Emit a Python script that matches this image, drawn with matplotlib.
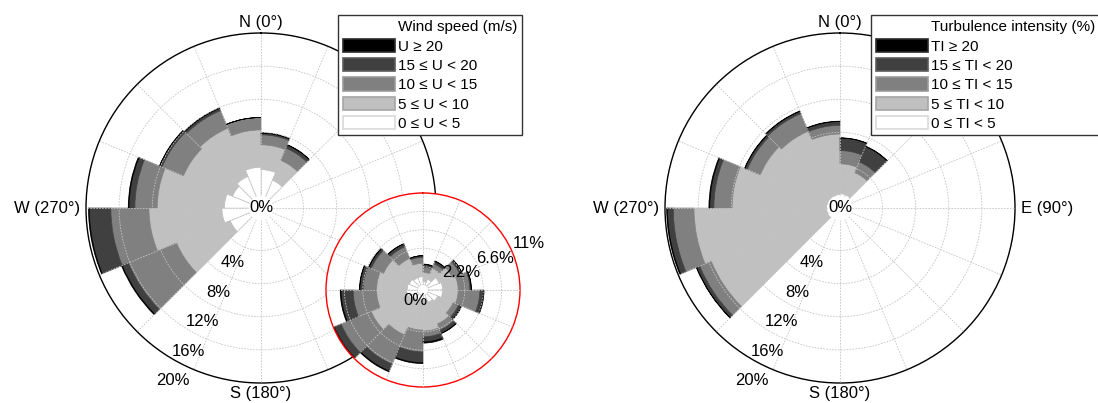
import numpy as np
import matplotlib.pyplot as plt
from matplotlib.patches import Patch

plt.rcParams['font.family'] = ['Liberation Sans', 'DejaVu Sans']

# 16 direction sectors, given by their starting bearing (deg, clockwise from N)
sectors = np.arange(0, 360, 22.5)

# frequency (%) per sector and class, left rose: wind speed
ws_0_5 = [3.5, 2.5, 0, 0, 0, 0, 0, 0, 0, 0, 2.9, 3.6, 3.3, 2.6, 3.0, 3.8]
ws_5_10 = [3.0, 2.6, 0, 0, 0, 0, 0, 0, 0, 0, 7.0, 8.8, 8.1, 6.4, 6.3, 4.5]
ws_10_15 = [1.2, 1.6, 0, 0, 0, 0, 0, 0, 0, 0, 6.3, 4.6, 2.7, 2.8, 2.3, 1.5]
ws_15_20 = [0.2, 0.4, 0, 0, 0, 0, 0, 0, 0, 0, 0.8, 2.6, 0.7, 0.3, 0.3, 0.0]
ws_20 = [0.05, 0.05, 0, 0, 0, 0, 0, 0, 0, 0, 0.1, 0.1, 0.1, 0.05, 0.05, 0.0]

# inset rose: wind speed
in_0_5 = [0.4, 0.8, 1.5, 1.75, 1.75, 1.3, 1.0, 0.6, 0.6, 0.8, 1.2, 1.35, 1.3, 1.2, 1.0, 1.0]
in_5_10 = [1.1, 1.4, 1.7, 1.85, 1.85, 2.0, 2.8, 3.7, 3.6, 4.4, 4.9, 3.6, 3.65, 3.3, 2.5, 1.6]
in_10_15 = [0.65, 0.6, 1.0, 1.4, 2.6, 0.7, 0.8, 0.7, 2.6, 3.8, 3.9, 2.8, 1.6, 1.6, 1.5, 0.7]
in_15_20 = [0.3, 0.3, 0.25, 0.15, 0.4, 0.35, 0.4, 0.6, 1.3, 0.9, 0.9, 1.45, 0.4, 0.3, 0.35, 0.2]
in_20 = [0.05, 0.05, 0.05, 0.05, 0.1, 0.05, 0.05, 0.15, 0.1, 0.1, 0.1, 0.1, 0.05, 0.05, 0.05, 0.0]

# right rose: turbulence intensity
ti_0_5 = [0.6, 0.6, 0, 0, 0, 0, 0, 0, 0, 0, 0.5, 0.5, 0.5, 0.5, 0.5, 0.5]
ti_5_10 = [3.6, 2.9, 0, 0, 0, 0, 0, 0, 0, 0, 15.2, 16.0, 11.4, 8.8, 8.4, 7.3]
ti_10_15 = [1.6, 1.4, 0, 0, 0, 0, 0, 0, 0, 0, 1.5, 2.5, 2.2, 1.7, 2.3, 1.05]
ti_15_20 = [1.5, 2.0, 0, 0, 0, 0, 0, 0, 0, 0, 0.4, 0.7, 0.5, 0.3, 0.3, 0.45]
ti_20 = [0.05, 0.05, 0, 0, 0, 0, 0, 0, 0, 0, 0.05, 0.1, 0.1, 0.05, 0.05, 0.05]

ws_labels = ['0 ≤ U < 5', '5 ≤ U < 10', '10 ≤ U < 15', '15 ≤ U < 20', 'U ≥ 20']
ti_labels = ['0 ≤ TI < 5', '5 ≤ TI < 10', '10 ≤ TI < 15', '15 ≤ TI < 20', 'TI ≥ 20']

fills = ['#ffffff', '#c0c0c0', '#808080', '#404040', '#000000']
edges = ['#d4d4d4', '#c0c0c0', '#808080', '#404040', '#000000']
legend_edges = ['#d9d9d9', '#a6a6a6', '#9a9a9a', '#5c5c5c', '#2b2b2b']

W, H = 1098, 403


def draw_rose(ax, bins, rmax, rings, hole, rim='black'):
    ax.set_theta_zero_location('N')
    ax.set_theta_direction(-1)
    theta = np.deg2rad(sectors + 11.25)
    width = np.deg2rad(22.5)
    bottom = np.zeros(len(sectors))
    for vals, fc, ec in zip(bins, fills, edges):
        vals = np.asarray(vals, dtype=float)
        ax.bar(theta, vals, width=width, bottom=bottom, color=fc,
               edgecolor=ec, linewidth=0.5, align='center')
        bottom += vals
    ax.set_ylim(0, rmax)
    ax.set_rorigin(-hole)
    ax.set_rgrids(rings, labels=[])
    ax.set_thetagrids(np.arange(0, 360, 22.5), labels=[])
    ax.grid(True, color='#c4c4c4', linestyle=(0, (2, 1.5)), linewidth=0.6)
    ax.set_axisbelow(False)
    ax.spines['polar'].set_color(rim)
    ax.spines['polar'].set_linewidth(1.0)
    ax.spines['inner'].set_visible(False)
    ax.spines['inner'].set_linewidth(0)
    ax.tick_params(length=0)


def add_labels(ax, values, fmt, bearing, offset, size=12):
    for v in values:
        ax.text(np.deg2rad(bearing), v + offset, fmt.format(v), ha='center',
                va='center', fontsize=size, clip_on=False)


def rose_box(cx, cy, r):
    return [(cx - r) / W, (H - cy - r) / H, 2 * r / W, 2 * r / H]


fig = plt.figure(figsize=(W / 100, H / 100), dpi=100)

# --- left rose: wind speed ---
ax1 = fig.add_axes(rose_box(261, 208, 175), projection='polar')
draw_rose(ax1, [ws_0_5, ws_5_10, ws_10_15, ws_15_20, ws_20], 20, [4, 8, 12, 16], 1.13)
add_labels(ax1, [4, 8, 12, 16, 20], '{}%', 207, 2.3)
ax1.text(0.5, 0.5, '0%', transform=ax1.transAxes, ha='center', va='center', fontsize=12,
         bbox=dict(boxstyle='circle,pad=0.02', fc='white', ec='none'))
ax1.text(0.5, 1.0286, 'N (0°)', transform=ax1.transAxes, ha='center', va='center', fontsize=12)
ax1.text(0.5, -0.0286, 'S (180°)', transform=ax1.transAxes, ha='center', va='center', fontsize=12)
ax1.text(-0.017, 0.5, 'W (270°)', transform=ax1.transAxes, ha='right', va='center', fontsize=12)

# --- inset rose ---
ax_in = fig.add_axes(rose_box(423, 290, 97), projection='polar')
ax_in.set_facecolor('white')
draw_rose(ax_in, [in_0_5, in_5_10, in_10_15, in_15_20, in_20], 11,
          [2.2, 4.4, 6.6, 8.8], 0.6, rim='red')
add_labels(ax_in, [2.2, 6.6, 11], '{:g}%', 66, 2.2)
ax_in.text(0.459, 0.448, '0%', transform=ax_in.transAxes, ha='center', va='center', fontsize=12)

# --- right rose: turbulence intensity ---
ax2 = fig.add_axes(rose_box(840, 208, 175), projection='polar')
draw_rose(ax2, [ti_0_5, ti_5_10, ti_10_15, ti_15_20, ti_20], 20, [4, 8, 12, 16], 1.13)
add_labels(ax2, [4, 8, 12, 16, 20], '{}%', 207, 2.3)
ax2.text(0.5, 0.5, '0%', transform=ax2.transAxes, ha='center', va='center', fontsize=12,
         bbox=dict(boxstyle='circle,pad=0.02', fc='white', ec='none'))
ax2.text(0.5, 1.0286, 'N (0°)', transform=ax2.transAxes, ha='center', va='center', fontsize=12)
ax2.text(0.5, -0.0286, 'S (180°)', transform=ax2.transAxes, ha='center', va='center', fontsize=12)
ax2.text(-0.017, 0.5, 'W (270°)', transform=ax2.transAxes, ha='right', va='center', fontsize=12)
ax2.text(1.017, 0.5, 'E (90°)', transform=ax2.transAxes, ha='left', va='center', fontsize=12)


def legend_entries(title, labels):
    # the heading sits in the label column, above the class entries
    handles = [Patch(facecolor='none', edgecolor='none')]
    handles += [Patch(facecolor=fc, edgecolor=ec, linewidth=1.2)
                for fc, ec in zip(fills[::-1], legend_edges[::-1])]
    return handles, [title] + labels[::-1]


leg_kw = dict(loc='upper left', fontsize=11, frameon=True, fancybox=False,
              framealpha=1, edgecolor='#333333', borderaxespad=0, handlelength=3.4,
              handleheight=0.95, labelspacing=0.29, handletextpad=0.2, borderpad=0.3)
h1, l1 = legend_entries('Wind speed (m/s)', ws_labels)
leg1 = fig.legend(h1, l1, bbox_to_anchor=(338 / W, 1 - 15 / H), **leg_kw)
h2, l2 = legend_entries('Turbulence intensity (%)', ti_labels)
leg2 = fig.legend(h2, l2, bbox_to_anchor=(871 / W, 1 - 15 / H), **leg_kw)
for leg in (leg1, leg2):
    leg.get_frame().set_linewidth(1.0)

fig.savefig('out.png', dpi=100)
